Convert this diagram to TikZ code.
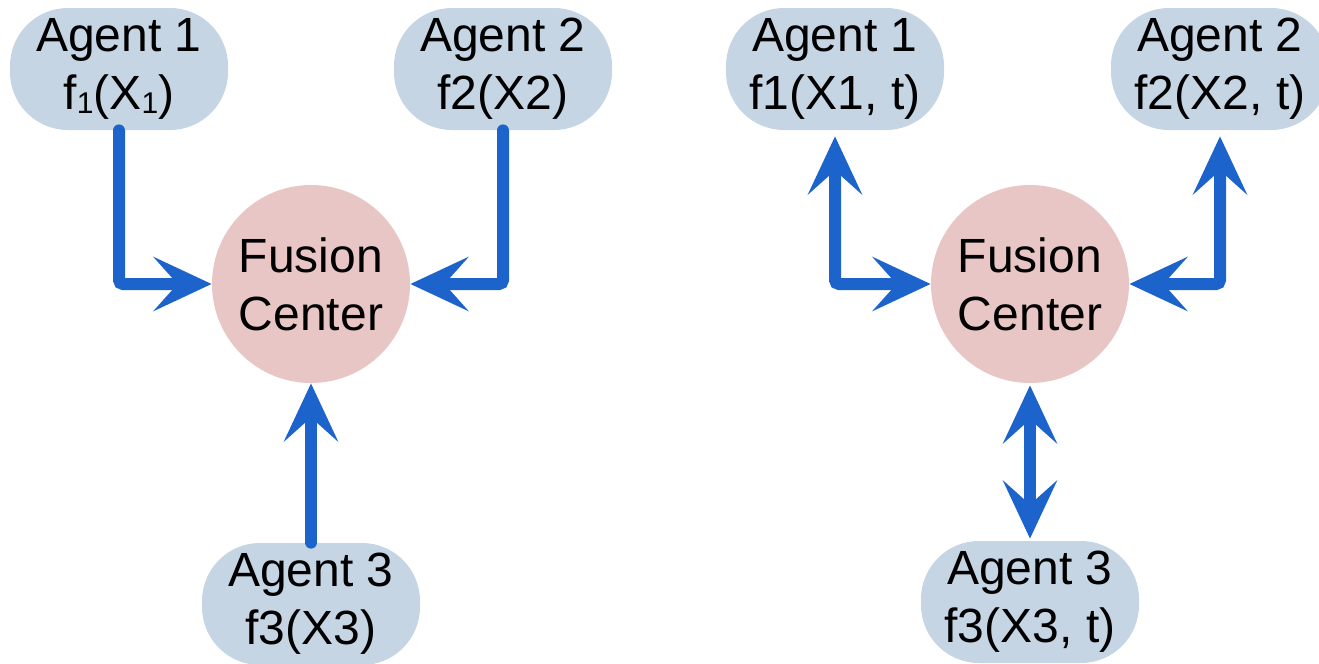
\documentclass[tikz,border=0pt]{standalone}
\usepackage{fontspec}
\setmainfont{Liberation Sans}
\usetikzlibrary{arrows.meta}
\definecolor{agentfill}{RGB}{198,213,228}
\definecolor{centerfill}{RGB}{233,198,198}
\definecolor{linkblue}{RGB}{28,100,204}
\newcommand\lowone{\raisebox{-2pt}{\fontsize{15}{15}\selectfont 1}}
\tikzset{
  tipA/.tip={Stealth[length=29pt,width=27pt,inset=12pt]},
  agent/.style={fill=agentfill, rounded corners=29pt, minimum width=109pt,
    minimum height=61pt, inner sep=0pt, align=center,
    font=\fontsize{24}{29}\selectfont},
  hub/.style={circle, fill=centerfill, minimum size=99pt, inner sep=0pt,
    align=center, font=\fontsize{24}{29}\selectfont},
  link/.style={draw=linkblue, line width=6pt, line cap=round, rounded corners=2pt},
}
\begin{document}
\begin{tikzpicture}[x=0.5pt,y=-0.5pt]
\useasboundingbox (0,0) rectangle (1319,664);

% one-way reporting: agents send to the fusion center
\node[hub] (fc) at (311,284) {Fusion\\Center};
\node[agent] (a1) at (119,69) {Agent 1\\f\lowone(X\lowone)};
\node[agent] (a2) at (503,69) {Agent 2\\f2(X2)};
\node[agent] (a3) at (311,604) {Agent 3\\f3(X3)};

\draw[link,-tipA] (a1.south) |- (fc.west);
\draw[link,-tipA] (a2.south) |- (fc.east);
\draw[link,-tipA] (a3.north) -- (fc.south);

% two-way exchange between agents and the fusion center
\node[hub] (gc) at (1030,284) {Fusion\\Center};
\node[agent] (b1) at (835,69) {Agent 1\\f1(X1, t)};
\node[agent] (b2) at (1220,69) {Agent 2\\f2(X2, t)};
\node[agent] (b3) at (1030,602) {Agent 3\\f3(X3, t)};

\draw[link,tipA-tipA,shorten <=3pt] (b1.south) |- (gc.west);
\draw[link,tipA-tipA,shorten <=3pt] (b2.south) |- (gc.east);
\draw[link,tipA-tipA,shorten <=1pt,shorten >=1pt] (gc.south) -- (b3.north);
\end{tikzpicture}
\end{document}
